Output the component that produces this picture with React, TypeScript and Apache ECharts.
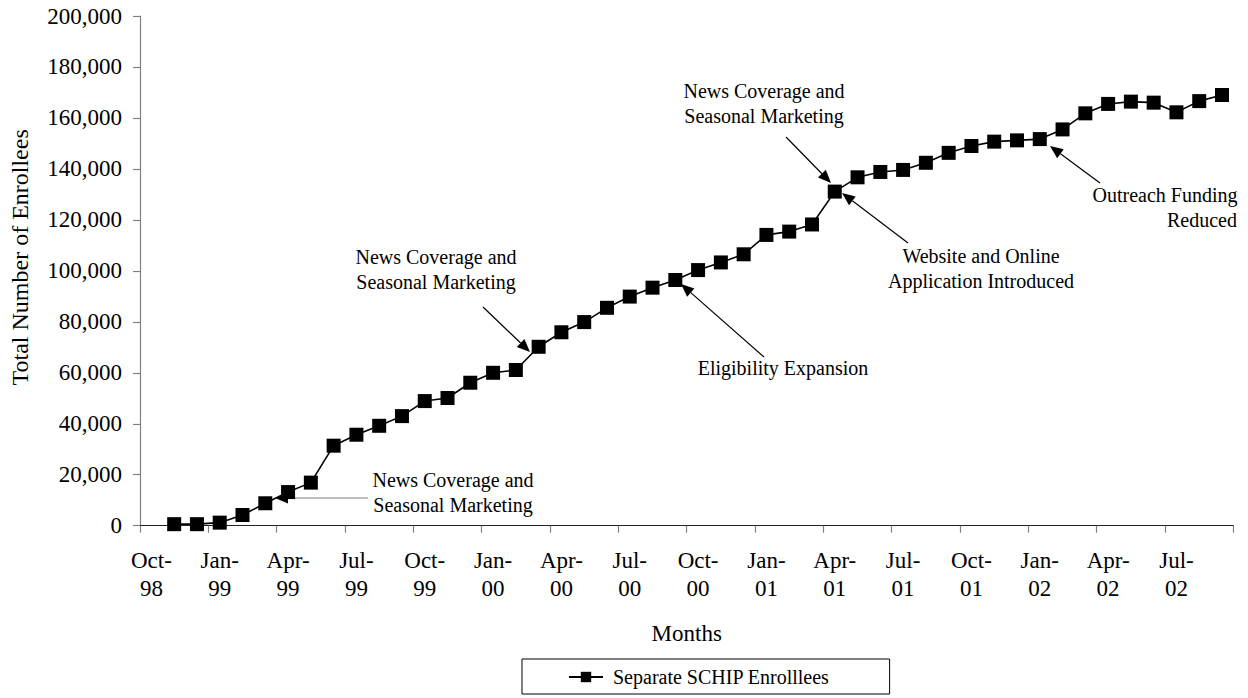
import React, { useEffect, useRef } from "react";
import * as echarts from "echarts";

const months: string[] = [
  "Oct-98", "Nov-98", "Dec-98",
  "Jan-99", "Feb-99", "Mar-99", "Apr-99", "May-99", "Jun-99", "Jul-99", "Aug-99", "Sep-99", "Oct-99", "Nov-99", "Dec-99",
  "Jan-00", "Feb-00", "Mar-00", "Apr-00", "May-00", "Jun-00", "Jul-00", "Aug-00", "Sep-00", "Oct-00", "Nov-00", "Dec-00",
  "Jan-01", "Feb-01", "Mar-01", "Apr-01", "May-01", "Jun-01", "Jul-01", "Aug-01", "Sep-01", "Oct-01", "Nov-01", "Dec-01",
  "Jan-02", "Feb-02", "Mar-02", "Apr-02", "May-02", "Jun-02", "Jul-02", "Aug-02", "Sep-02",
];

const enrollees: (number | null)[] = [
  null, 600, 600,
  1200, 4200, 8800, 13200, 16900, 31400, 35700, 39200, 43000, 48900, 50100, 56100,
  60000, 61100, 70200, 75900, 79900, 85500, 89900, 93400, 96400, 100300, 103300, 106500,
  114100, 115400, 118200, 131100, 136700, 138800, 139600, 142400, 146300, 149000, 150700, 151200,
  151700, 155500, 161800, 165500, 166400, 166000, 162200, 166600, 169000,
];

const seriesName = "Separate SCHIP Enrolllees";
const yTicks = { min: 0, max: 200000, interval: 20000 };

const FONT = '"Liberation Serif", "Times New Roman", serif';

type Note = { text: string; x: number; y: number };
type Arrow = { from: [number, number]; to: [number, number]; color: string };

const notes: Note[] = [
  { text: "News Coverage and\nSeasonal Marketing", x: 453, y: 492 },
  { text: "News Coverage and\nSeasonal Marketing", x: 436, y: 269 },
  { text: "News Coverage and\nSeasonal Marketing", x: 764, y: 103 },
  { text: "Eligibility Expansion", x: 783, y: 368 },
  { text: "Website and Online\nApplication Introduced", x: 981, y: 268 },
  { text: "Outreach Funding", x: 1165, y: 195 },
  { text: "Reduced", x: 1202, y: 220 },
];

const arrows: Arrow[] = [
  { from: [368, 498], to: [275, 498], color: "#808080" },
  { from: [483, 307], to: [530, 352], color: "#000" },
  { from: [786, 137], to: [831, 183], color: "#000" },
  { from: [764, 357], to: [681, 284], color: "#000" },
  { from: [908, 243], to: [842, 193], color: "#000" },
  { from: [1100, 183], to: [1050, 146], color: "#000" },
];

function arrowElements(a: Arrow) {
  const [x1, y1] = a.from;
  const [x2, y2] = a.to;
  const dx = x2 - x1;
  const dy = y2 - y1;
  const len = Math.sqrt(dx * dx + dy * dy);
  const ux = dx / len;
  const uy = dy / len;
  const L = 13;
  const W = 5.5;
  const bx = x2 - ux * L;
  const by = y2 - uy * L;
  const nx = -uy;
  const ny = ux;
  return [
    {
      type: "line",
      shape: { x1, y1, x2: bx, y2: by },
      style: { stroke: a.color, lineWidth: 1.2 },
      silent: true,
    },
    {
      type: "polygon",
      shape: {
        points: [
          [x2, y2],
          [bx + nx * W, by + ny * W],
          [bx - nx * W, by - ny * W],
        ],
      },
      style: { fill: "#000" },
      silent: true,
    },
  ];
}

export default function App() {
  const ref = useRef<HTMLDivElement>(null);

  useEffect(() => {
    if (!ref.current) return;
    const chart = echarts.init(ref.current, undefined, { renderer: "svg" });

    const graphics: any[] = [];
    notes.forEach((n) => {
      graphics.push({
        type: "text",
        x: n.x,
        y: n.y,
        silent: true,
        style: {
          text: n.text,
          fill: "#000",
          fontSize: 20,
          fontFamily: FONT,
          align: "center",
          verticalAlign: "middle",
          lineHeight: 25,
        },
      });
    });
    arrows.forEach((a) => graphics.push(...arrowElements(a)));

    chart.setOption({
      animation: false,
      backgroundColor: "#fff",
      grid: {
        left: 140,
        right: 14.6,
        top: 16,
        bottom: 172.3,
        containLabel: false,
        outerBoundsMode: "none",
      },
      xAxis: {
        type: "category",
        data: months,
        boundaryGap: true,
        name: "Months",
        nameLocation: "middle",
        nameGap: 96,
        nameTextStyle: { fontSize: 23, fontFamily: FONT, color: "#000" },
        axisLine: { show: true, lineStyle: { color: "#222", width: 1.2 } },
        axisTick: { show: true, interval: 2, length: 7, inside: false, lineStyle: { color: "#808080", width: 1.2 } },
        axisLabel: {
          interval: 2,
          margin: 21,
          fontSize: 23,
          lineHeight: 28,
          fontFamily: FONT,
          color: "#000",
          formatter: (v: string) => {
            const [m, y] = v.split("-");
            return m + "-\n" + y;
          },
        },
        splitLine: { show: false },
      },
      yAxis: {
        type: "value",
        min: yTicks.min,
        max: yTicks.max,
        interval: yTicks.interval,
        name: "Total Number of Enrollees",
        nameLocation: "middle",
        nameGap: 108,
        nameRotate: 90,
        nameTextStyle: { fontSize: 24, fontFamily: FONT, color: "#000", padding: [0, 0, 0, 27] },
        axisLine: { show: true, lineStyle: { color: "#808080", width: 1.2 } },
        axisTick: { show: true, length: 7, inside: false, lineStyle: { color: "#808080", width: 1.2 } },
        axisLabel: {
          margin: 18,
          fontSize: 23,
          fontFamily: FONT,
          color: "#000",
          formatter: (v: number) => v.toLocaleString("en-US"),
        },
        splitLine: { show: false },
      },
      legend: {
        show: true,
        data: [seriesName],
        left: 522,
        top: 659,
        orient: "horizontal",
        borderColor: "#000",
        borderWidth: 1,
        borderRadius: 0,
        padding: [8, 60, 7, 46],
        itemWidth: 34,
        itemHeight: 13,
        textStyle: { fontSize: 20, fontFamily: FONT, color: "#000", padding: [0, 0, 0, 5] },
      },
      series: [
        {
          name: seriesName,
          type: "line",
          data: enrollees,
          symbol: "rect",
          symbolSize: 14,
          showSymbol: true,
          color: "#000",
          itemStyle: { color: "#000" },
          lineStyle: { color: "#000", width: 1.6 },
        },
      ],
      graphic: graphics,
    });

    return () => chart.dispose();
  }, []);

  return (
    <div
      ref={ref}
      style={{ position: "absolute", left: 0, top: 0, width: 1248, height: 698, background: "#fff" }}
    />
  );
}
